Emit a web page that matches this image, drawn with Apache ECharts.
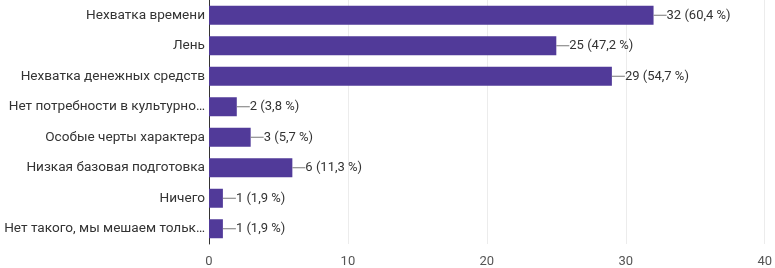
<!DOCTYPE html>
<html>
<head>
<meta charset="utf-8">
<script src="https://cdn.jsdelivr.net/npm/echarts@6/dist/echarts.min.js"></script>
<style>
html, body { margin: 0; padding: 0; background: #fff; }
#chart { width: 775px; height: 268px; }
</style>
</head>
<body>
<div id="chart"></div>
<script>
// ответы
const categories = [
  'Нехватка времени',
  'Лень',
  'Нехватка денежных средств',
  'Нет потребности в культурно…',
  'Особые черты характера',
  'Низкая базовая подготовка',
  'Ничего',
  'Нет такого, мы мешаем тольк…'
]
const counts = [32, 25, 29, 2, 3, 6, 1, 1]
const percents = ['60,4', '47,2', '54,7', '3,8', '5,7', '11,3', '1,9', '1,9']
const xTicks = [0, 10, 20, 30, 40]

let chart = echarts.init(document.getElementById('chart'))
let option = {
  animation: false,
  textStyle: { fontFamily: 'Roboto, Arial, sans-serif' },
  grid: { left: 209, right: 8, top: 0, bottom: 24 },
  xAxis: {
    type: 'value',
    min: xTicks[0],
    max: xTicks[xTicks.length - 1],
    interval: 10,
    axisLine: { show: false },
    axisTick: { show: false },
    axisLabel: { color: '#555', fontSize: 13, margin: 11 },
    splitLine: { lineStyle: { color: '#ececec' } }
  },
  yAxis: {
    type: 'category',
    inverse: true,
    data: categories,
    axisLine: { lineStyle: { color: '#333', width: 1 } },
    axisTick: { show: false },
    axisLabel: { color: '#333', fontSize: 13.6, margin: 4 }
  },
  series: [{
    type: 'bar',
    data: counts,
    barWidth: 19,
    itemStyle: { color: '#513a99' },
    label: {
      show: true,
      position: 'right',
      distance: 0,
      formatter: function (p) {
        return '{ln|}{t|' + counts[p.dataIndex] + ' (' + percents[p.dataIndex] + ' %)}'
      },
      rich: {
        ln: { width: 13, height: 1, backgroundColor: '#777' },
        t: { color: '#333', fontSize: 13 }
      }
    }
  }]
}

chart.setOption(option)
window.addEventListener('resize', function () {
  chart.resize()
})
</script>
</body>
</html>
